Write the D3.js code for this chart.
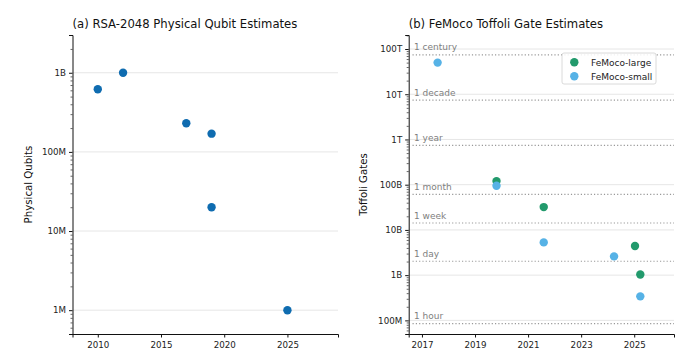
<!DOCTYPE html>
<html><head><meta charset="utf-8">
<script src="https://cdn.jsdelivr.net/npm/d3@7"></script>
<style>
body{margin:0;background:#fff;}
svg{font-family:"DejaVu Sans",sans-serif;}
</style></head>
<body><svg id="c" width="700" height="364"></svg>
<script>
// ---- Panel (a) data ----
const rsaYears = [2010, 2012, 2017, 2019, 2019, 2025];
const rsaQubits = [6.2e8, 1.0e9, 2.3e8, 1.7e8, 2.0e7, 1.0e6];
const rsaXTicks = [2010, 2015, 2020, 2025];
const rsaYTicks = [1e6, 1e7, 1e8, 1e9];
const rsaYTickLabels = ["1M", "10M", "100M", "1B"];

// ---- Panel (b) data ----
const largeYears = [2019.81, 2021.59, 2025.03, 2025.23];
const largeGates = [1.2e11, 3.2e10, 4.4e9, 1.03e9];
const smallYears = [2017.59, 2019.81, 2021.59, 2024.24, 2025.23];
const smallGates = [5.0e13, 9.5e10, 5.3e9, 2.6e9, 3.4e8];
const seriesNames = ["FeMoco-large", "FeMoco-small"];
const femXTicks = [2017, 2019, 2021, 2023, 2025];
const femYTicks = [1e8, 1e9, 1e10, 1e11, 1e12, 1e13, 1e14];
const femYTickLabels = ["100M", "1B", "10B", "100B", "1T", "10T", "100T"];
const timeLabels = ["1 hour", "1 day", "1 week", "1 month", "1 year", "1 decade", "1 century"];
const timeSeconds = [3600, 86400, 604800, 2592000, 31536000, 315360000, 3153600000];
const toffoliPerSecond = 23500;

const svg = d3.select("#c");
svg.append("rect").attr("width",700).attr("height",364).attr("fill","#fff");

function minorTicks(domain){
  const out=[];
  const lo=Math.floor(Math.log10(domain[0])), hi=Math.ceil(Math.log10(domain[1]));
  for(let e=lo;e<=hi;e++) for(let m=2;m<=9;m++){const v=m*Math.pow(10,e); if(v>=domain[0]&&v<=domain[1]) out.push(v);}
  return out;
}

function panel(opt){
  const g = svg.append("g");
  const x = d3.scaleLinear().domain(opt.xDomain).range([opt.left, opt.right]);
  const y = d3.scaleLog().domain(opt.yDomain).range([opt.bottom, opt.top]);
  g.append("g").selectAll("line").data(opt.yTicks).join("line")
    .attr("x1",opt.left).attr("x2",opt.right)
    .attr("y1",d=>y(d)).attr("y2",d=>y(d))
    .attr("stroke","#e6e6e6").attr("stroke-width",1);
  const minor = g.append("g").attr("transform",`translate(${opt.left},0)`)
    .call(d3.axisLeft(y).tickValues(minorTicks(opt.yDomain)).tickFormat("").tickSize(2));
  minor.select(".domain").remove();
  minor.selectAll("line").attr("stroke","#222").attr("stroke-width",0.7);
  const ya = g.append("g").attr("transform",`translate(${opt.left},0)`)
    .call(d3.axisLeft(y).tickValues(opt.yTicks).tickFormat((d,i)=>opt.yTickLabels[i]).tickSize(3.5).tickPadding(3));
  ya.select(".domain").attr("stroke","#111").attr("stroke-width",1);
  ya.selectAll("line").attr("stroke","#111");
  ya.selectAll("text").attr("font-size",8.7).attr("fill","#222").attr("font-family","DejaVu Sans");
  const xa = g.append("g").attr("transform",`translate(0,${opt.bottom})`)
    .call(d3.axisBottom(x).tickValues(opt.xTicks).tickFormat(d3.format("d")).tickSize(3.5).tickPadding(4));
  xa.select(".domain").attr("stroke","#111").attr("stroke-width",1);
  xa.selectAll("line").attr("stroke","#111");
  xa.selectAll("text").attr("font-size",8.7).attr("fill","#222").attr("font-family","DejaVu Sans");
  g.append("text").attr("x",opt.left).attr("y",28).attr("font-size",11.65).attr("fill","#111").text(opt.title);
  g.append("text").attr("transform",`translate(${opt.ylabelX},${(opt.top+opt.bottom)/2}) rotate(-90)`)
    .attr("text-anchor","middle").attr("font-size",10.2).attr("fill","#111").text(opt.ylabel);
  return {g,x,y};
}

// Panel (a)
const A = panel({left:72.5,right:338,top:35,bottom:334,xDomain:[2008,2029],yDomain:[5e5,3e9],
  yTicks:rsaYTicks,yTickLabels:rsaYTickLabels,xTicks:rsaXTicks,
  title:"(a) RSA-2048 Physical Qubit Estimates",ylabel:"Physical Qubits",ylabelX:32});
A.g.append("g").selectAll("circle").data(rsaYears.map((d,i)=>[d,rsaQubits[i]])).join("circle")
  .attr("cx",d=>A.x(d[0])).attr("cy",d=>A.y(d[1])).attr("r",4.2).attr("fill","#0f6cb0");

// Panel (b)
const B = panel({left:408.7,right:674,top:35,bottom:334,xDomain:[2016.5,2026.5],yDomain:[5e7,2.04e14],
  yTicks:femYTicks,yTickLabels:femYTickLabels,xTicks:femXTicks,
  title:"(b) FeMoco Toffoli Gate Estimates",ylabel:"Toffoli Gates",ylabelX:367});
const thr = timeSeconds.map((s,i)=>({label:timeLabels[i], v:s*toffoliPerSecond}));
B.g.append("g").selectAll("line").data(thr).join("line")
  .attr("x1",412.5).attr("x2",674).attr("y1",d=>B.y(d.v)).attr("y2",d=>B.y(d.v))
  .attr("stroke","#999").attr("stroke-width",1.2).attr("stroke-dasharray","1.2,2.1");
B.g.append("g").selectAll("text").data(thr).join("text")
  .attr("x",414).attr("y",d=>B.y(d.v)-4.5).attr("font-size",9).attr("fill","#808080").text(d=>d.label);
const colors = ["#229a6c","#56b2e6"];
B.g.append("g").selectAll("circle").data(largeYears.map((d,i)=>[d,largeGates[i]])).join("circle")
  .attr("cx",d=>B.x(d[0])).attr("cy",d=>B.y(d[1])).attr("r",4.2).attr("fill",colors[0]);
B.g.append("g").selectAll("circle").data(smallYears.map((d,i)=>[d,smallGates[i]])).join("circle")
  .attr("cx",d=>B.x(d[0])).attr("cy",d=>B.y(d[1])).attr("r",4.2).attr("fill",colors[1]);
const lg = B.g.append("g");
lg.append("rect").attr("x",562).attr("y",53).attr("width",94).attr("height",31).attr("rx",2)
  .attr("fill","#fff").attr("fill-opacity",0.85).attr("stroke","#d0d0d0").attr("stroke-width",0.8);
seriesNames.forEach((n,i)=>{
  lg.append("circle").attr("cx",574.3).attr("cy",62.3+i*14).attr("r",4.2).attr("fill",colors[i]);
  lg.append("text").attr("x",591).attr("y",62.3+i*14+3.2).attr("font-size",9).attr("fill","#222").text(n);
});
</script></body></html>
